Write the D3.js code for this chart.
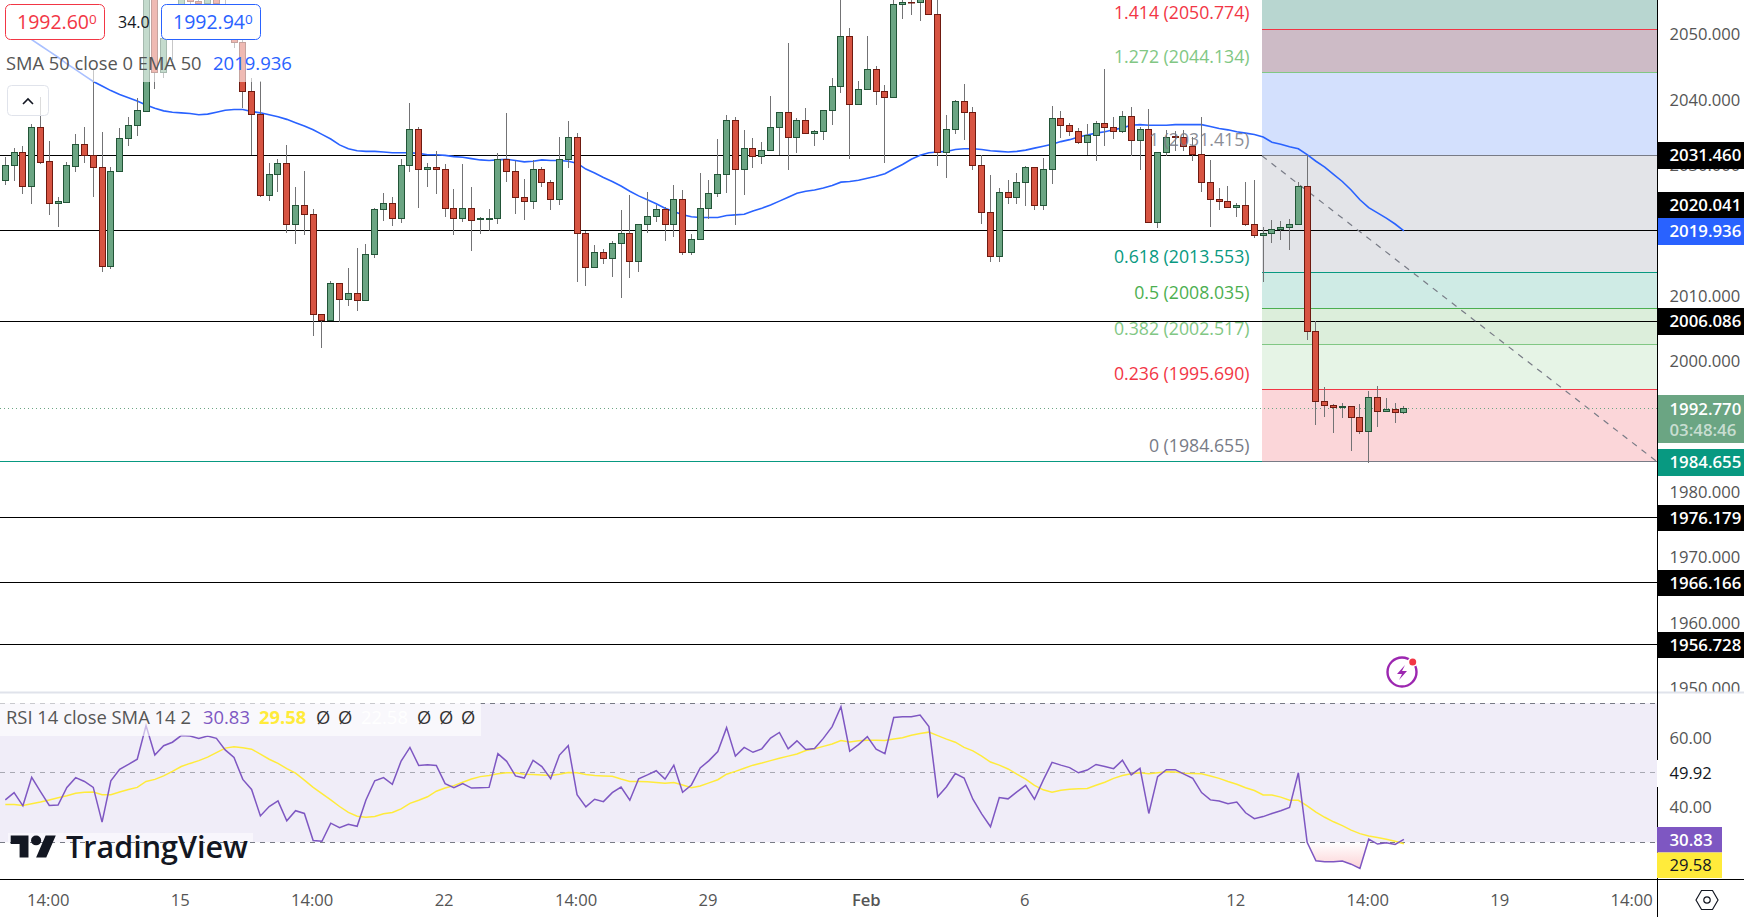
<!DOCTYPE html>
<html>
<head>
<meta charset="utf-8">
<script src="https://cdn.jsdelivr.net/npm/d3@7"></script>
<style>
  html, body { margin: 0; padding: 0; background: #fff; overflow: hidden; }
  svg { display: block; }
  text { font-family: "Open Sans", sans-serif; }
</style>
</head>
<body>
<script>
// candles, oldest first (price)
var opens = [
  2027.7,2030.0,2031.9,2026.8,2035.8,2030.5,2024.2,2024.3,2029.8,2033.1,
  2031.4,2029.6,2014.5,2029.1,2034.0,2036.1,2038.2,2058.3,2044.1,2050.2,
  2052.2,2056.8,2055.1,2054.7,2055.8,2053.2,2049.3,2048.7,2041.3,2037.8,
  2025.4,2028.5,2030.3,2020.9,2023.9,2022.5,2007.1,2006.3,2011.9,2009.4,
  2010.3,2009.3,2016.4,2023.2,2024.2,2021.8,2029.9,2035.4,2029.3,2029.7,
  2029.3,2023.3,2021.8,2023.3,2021.7,2021.7,2021.8,2030.9,2029.0,2025.1,
  2024.4,2029.3,2027.4,2024.7,2030.9,2034.2,2019.5,2014.3,2016.6,2015.7,
  2018.0,2019.5,2015.2,2021.0,2022.1,2023.2,2020.9,2024.7,2016.7,2018.7,
  2023.3,2025.6,2028.5,2036.9,2029.4,2032.6,2031.3,2032.3,2035.8,2038.0,
  2034.2,2036.9,2034.8,2035.2,2038.3,2042.1,2049.7,2039.2,2041.5,2044.7,
  2041.2,2040.3,2054.6,2054.9,2054.8,2055.5,2053.1,2031.9,2035.4,2039.8,
  2038.1,2029.9,2022.8,2016.1,2025.8,2025.0,2027.3,2029.6,2023.8,2029.4,
  2037.2,2036.0,2035.1,2033.4,2034.5,2036.3,2035.7,2035.1,2037.4,2033.7,
  2035.4,2021.2,2031.9,2034.4,2034.3,2032.9,2031.7,2027.3,2024.8,2024.4,
  2023.6,2023.9,2020.9,2019.2,2019.5,2020.1,2020.4,2020.9,2026.8,2004.5,
  1993.8,1993.2,1993.0,1993.1,1991.4,1989.2,1994.4,1992.4,1992.6,1992.1
];
var highs = [
  2031.3,2032.6,2033.0,2036.3,2040.4,2033.7,2025.1,2030.5,2034.8,2035.9,
  2044.6,2035.1,2029.7,2035.7,2037.4,2040.3,2061.9,2061.4,2052.2,2054.3,
  2058.3,2057.8,2056.8,2057.3,2056.8,2055.5,2050.2,2050.2,2043.3,2042.8,
  2030.3,2030.9,2033.1,2026.7,2029.1,2023.3,2007.2,2012.3,2012.0,2014.3,
  2017.3,2018.0,2023.5,2025.8,2025.1,2030.9,2039.5,2035.9,2030.3,2032.2,
  2030.2,2026.4,2030.2,2026.7,2022.1,2023.3,2031.9,2038.0,2030.6,2027.9,
  2030.8,2029.7,2027.7,2034.3,2036.8,2034.9,2019.9,2017.8,2017.2,2018.4,
  2023.2,2025.4,2021.0,2025.9,2023.9,2023.6,2027.0,2026.2,2019.5,2028.8,
  2027.7,2034.0,2037.7,2037.4,2035.4,2034.2,2033.5,2040.6,2038.1,2048.7,
  2037.2,2038.7,2035.4,2038.3,2043.3,2055.3,2051.0,2042.9,2049.7,2045.2,
  2042.2,2055.8,2055.5,2055.5,2055.8,2055.8,2055.5,2037.7,2040.0,2042.4,
  2038.9,2031.5,2028.5,2026.5,2027.7,2028.8,2029.9,2029.7,2031.1,2039.0,
  2038.3,2036.4,2035.7,2036.3,2036.8,2044.7,2037.4,2038.3,2038.9,2035.9,
  2038.6,2031.9,2035.4,2035.2,2035.3,2034.3,2037.4,2030.8,2026.5,2026.8,
  2024.2,2027.4,2027.7,2020.6,2021.6,2021.4,2021.8,2027.4,2031.6,2006.1,
  1996.0,1993.4,1993.7,1993.2,1993.5,1995.4,1996.3,1994.4,1993.7,1993.2
];
var lows = [
  2027.0,2027.5,2025.6,2024.1,2030.2,2022.4,2020.6,2024.3,2029.0,2030.4,
  2025.2,2013.6,2014.1,2029.0,2033.0,2034.4,2038.2,2041.7,2043.3,2046.1,
  2050.2,2053.8,2052.7,2052.2,2052.7,2050.2,2047.9,2038.8,2031.6,2025.2,
  2024.5,2025.9,2019.6,2018.0,2019.3,2003.8,2002.0,2006.2,2006.0,2008.4,
  2007.7,2009.2,2015.8,2021.4,2020.7,2021.2,2028.9,2023.4,2026.6,2025.6,
  2022.0,2019.3,2021.3,2016.8,2019.4,2019.9,2021.0,2027.4,2022.6,2021.6,
  2023.3,2026.6,2023.1,2023.9,2029.5,2012.1,2011.5,2014.3,2014.9,2012.9,
  2009.7,2012.7,2013.6,2019.6,2021.3,2018.4,2019.0,2016.2,2016.2,2018.7,
  2021.7,2025.1,2025.7,2020.8,2025.4,2029.5,2030.1,2032.3,2031.5,2029.2,
  2031.8,2034.8,2033.0,2033.8,2036.2,2041.0,2031.0,2039.2,2041.5,2039.2,
  2030.3,2040.3,2052.4,2053.0,2052.1,2052.9,2029.8,2028.0,2034.7,2033.9,
  2029.2,2021.0,2015.2,2015.2,2024.1,2024.0,2023.7,2023.1,2023.1,2027.1,
  2034.1,2034.4,2033.3,2031.6,2030.7,2032.9,2034.0,2034.9,2031.4,2029.2,
  2021.2,2020.4,2031.4,2032.1,2032.1,2030.7,2025.9,2020.5,2023.1,2023.6,
  2022.0,2020.7,2018.9,2012.1,2018.1,2018.5,2017.1,2020.9,2003.2,1990.3,
  1991.5,1989.1,1991.4,1986.3,1988.9,1984.5,1989.9,1992.4,1990.6,1992.0
];
var closes = [
  2030.0,2031.9,2026.8,2035.8,2030.4,2024.2,2024.4,2029.9,2033.1,2031.4,
  2029.6,2014.5,2029.1,2034.0,2036.1,2038.3,2060.4,2044.1,2049.3,2053.2,
  2055.8,2055.0,2054.7,2056.3,2054.7,2050.7,2048.7,2041.3,2037.8,2025.4,
  2028.5,2030.3,2020.9,2023.9,2022.5,2007.1,2006.3,2011.9,2009.4,2010.3,
  2009.3,2016.4,2023.2,2024.2,2021.8,2029.9,2035.4,2029.3,2029.7,2029.3,
  2023.3,2021.8,2023.3,2021.6,2021.8,2021.8,2030.9,2029.0,2025.1,2024.4,
  2029.3,2027.4,2024.7,2030.9,2034.2,2019.5,2014.3,2016.6,2015.7,2018.0,
  2019.5,2015.2,2021.0,2022.1,2023.2,2020.9,2024.7,2016.7,2018.7,2023.3,
  2025.6,2028.5,2036.9,2029.4,2032.6,2031.3,2032.3,2035.8,2038.0,2034.2,
  2036.9,2034.8,2035.2,2038.3,2042.1,2049.7,2039.2,2041.5,2044.7,2041.2,
  2040.3,2054.6,2054.9,2054.8,2055.5,2053.1,2031.9,2035.4,2039.8,2038.1,
  2029.9,2022.8,2016.1,2025.8,2025.0,2027.3,2029.6,2023.8,2029.4,2037.2,
  2036.0,2035.1,2033.4,2034.5,2036.3,2035.7,2035.1,2037.4,2033.7,2035.4,
  2021.2,2031.9,2034.3,2034.3,2032.9,2031.7,2027.3,2024.8,2024.4,2023.6,
  2023.9,2020.9,2019.2,2019.5,2020.1,2020.4,2020.9,2026.8,2004.5,1993.8,
  1993.2,1992.9,1993.1,1991.4,1989.2,1994.4,1992.4,1992.6,1992.1,1992.77
];
var ema50 = [
  2052.4,2051.4,2050.3,2049.2,2048.3,2047.4,2046.5,2045.5,2044.6,2043.7,
  2042.8,2042.1,2041.4,2040.8,2040.3,2039.8,2039.2,2038.7,2038.3,2038.1,
  2038.0,2037.9,2037.7,2037.8,2038.1,2038.4,2038.5,2038.5,2038.2,2038.0,
  2037.7,2037.4,2037.0,2036.5,2036.0,2035.4,2034.7,2034.0,2033.1,2032.5,
  2032.2,2032.1,2032.1,2032.0,2031.9,2031.9,2031.9,2031.8,2031.6,2031.6,
  2031.5,2031.3,2031.2,2031.0,2030.8,2030.7,2030.8,2030.9,2030.7,2030.5,
  2030.6,2030.8,2030.7,2030.7,2030.6,2030.3,2029.4,2028.8,2028.1,2027.5,
  2026.8,2026.0,2025.3,2024.7,2024.1,2023.4,2022.9,2022.4,2022.1,2022.0,
  2022.0,2022.0,2022.3,2022.4,2022.5,2023.0,2023.4,2023.9,2024.5,2025.1,
  2025.7,2026.0,2026.2,2026.5,2026.9,2027.4,2027.5,2027.7,2028.0,2028.3,
  2028.7,2029.4,2030.1,2030.9,2031.5,2031.9,2032.0,2032.1,2032.4,2032.5,
  2032.5,2032.4,2032.2,2032.1,2032.0,2032.1,2032.3,2032.6,2032.9,2033.2,
  2033.6,2033.9,2034.3,2034.6,2034.9,2035.1,2035.4,2035.7,2036.1,2036.2,
  2036.1,2036.1,2036.1,2036.2,2036.2,2036.2,2036.2,2035.9,2035.6,2035.4,
  2035.1,2034.9,2034.7,2034.3,2033.5,2033.2,2032.8,2032.5,2031.6,2030.6,
  2029.7,2028.6,2027.5,2026.2,2024.7,2023.5,2022.7,2021.9,2021.0,2019.94
];
var rsi = [
  42.2,44.3,40.5,48.7,44.6,40.6,40.7,45.8,48.6,47.5,
  45.8,35.8,47.7,51.0,52.4,53.9,63.6,55.1,57.8,58.8,
  60.7,60.6,59.9,60.6,59.9,56.6,54.4,48.1,45.2,37.6,
  40.3,41.9,36.2,39.1,38.3,30.5,30.3,35.5,34.2,35.2,
  34.6,42.2,47.7,48.6,46.7,53.4,57.3,52.1,52.3,52.1,
  46.9,45.7,46.9,45.6,45.7,45.8,55.5,53.3,49.1,48.5,
  53.6,51.8,48.3,55.1,57.8,43.7,40.2,42.4,41.7,44.3,
  45.9,42.1,48.3,49.4,50.6,48.2,52.2,44.4,46.5,51.4,
  53.5,56.1,63.0,54.8,57.3,55.9,56.9,60.0,61.6,56.9,
  59.2,56.7,57.0,59.9,63.3,69.0,56.2,58.1,60.4,56.8,
  55.5,65.9,66.1,66.1,66.6,63.3,43.1,46.0,49.8,48.5,
  42.4,38.2,34.5,42.9,42.5,44.5,46.4,42.4,47.9,53.0,
  52.2,51.5,50.0,50.8,52.4,51.8,51.2,53.6,49.4,51.3,
  38.3,48.9,50.9,50.9,49.6,48.4,44.3,42.2,41.9,41.1,
  41.6,38.5,36.8,37.4,38.3,39.1,40.0,50.0,30.0,24.7,
  24.4,24.4,24.6,23.7,22.5,30.9,29.5,29.9,29.4,30.83
];
var rsiSma = [
  40.9,40.9,40.6,41.1,41.6,42.2,42.8,43.4,44.1,44.4,
  44.5,43.7,43.7,44.5,45.2,45.8,47.5,48.1,49.1,50.4,
  51.8,52.7,53.5,54.5,55.8,57.1,57.5,57.2,56.8,55.4,
  53.9,52.7,51.2,49.9,47.9,45.8,44.0,42.2,40.3,38.6,
  37.5,37.2,37.4,38.2,38.6,39.6,41.2,42.1,43.1,44.7,
  45.6,46.3,47.3,48.2,48.9,49.2,49.7,50.0,50.0,49.6,
  49.5,49.4,49.2,49.6,50.1,50.0,49.5,49.2,49.1,49.0,
  48.2,47.5,47.5,47.4,47.2,47.0,47.2,46.5,45.7,46.2,
  47.1,48.0,49.6,50.4,51.3,52.2,52.8,53.5,54.2,54.8,
  55.4,56.4,56.9,57.6,58.3,59.3,58.9,59.2,59.4,59.4,
  59.3,59.7,60.1,60.8,61.3,61.7,60.7,59.7,58.8,57.3,
  56.3,54.8,53.1,52.2,51.1,49.6,48.2,46.4,45.1,44.4,
  45.0,45.3,45.4,45.5,46.4,47.3,48.4,49.2,49.7,50.0,
  49.7,50.0,50.3,50.2,49.9,49.8,49.7,49.1,48.4,47.5,
  46.7,45.7,44.9,43.6,43.6,43.0,42.1,42.1,40.5,38.7,
  37.2,35.9,34.8,33.5,32.5,31.8,31.4,30.9,30.3,29.58
];

// fibonacci retracement
var fibRatios = ["0", "0.236", "0.382", "0.5", "0.618", "1", "1.272", "1.414"];
var fibPrices = [1984.655, 1995.69, 2002.517, 2008.035, 2013.553, 2031.415, 2044.134, 2050.774];
var fibColors = ["#787b86", "#f23645", "#81c784", "#4caf50", "#089981", "#787b86", "#81c784", "#f23645"];
var fibFills = ["#fbd6d9", "#e6f4e6", "#dceedb", "#cfebe5", "#e3e4e8", "#d3e0fd", "#cdbbc6", "#b8d6d0"];

var levelLines = [2031.46, 2020.041, 2006.086, 1976.179, 1966.166, 1956.728];
var priceTicks = [2050, 2040, 2030, 2010, 2000, 1980, 1970, 1960, 1950];
var rsiTicks = [60, 40];
var timeTicks = [5, 20, 35, 50, 65, 80, 98, 116, 140, 155, 170, 185];
var timeLabels = ["14:00", "15", "14:00", "22", "14:00", "29", "Feb", "6", "12", "14:00", "19", "14:00"];

var width = 1744,
  height = 917,
  axisX = 1657,
  pricePaneBottom = 692,
  rsiPaneBottom = 879;

var svg = d3.select("body").append("svg").attr("width", width).attr("height", height);

var x = d3.scaleLinear().domain([0, 159]).range([5.3, 1403.9]);
var y = d3.scaleLinear().domain([1956.728, 2050.774]).range([644.3, 29.3]);
var yRsi = d3.scaleLinear().domain([30, 70]).range([842.3, 703.3]);

var crisp = function (v) {
  return Math.floor(v) + 0.5;
};

var indexes = d3.range(opens.length);
var green = function (i) {
  return closes[i] >= opens[i];
};

// ---- price pane
var price = svg.append("g");

// fib zones, the last one runs off the top
var fibLeft = 1262;
price
  .selectAll("rect.zone")
  .data(fibFills)
  .enter()
  .append("rect")
  .attr("class", "zone")
  .attr("x", fibLeft)
  .attr("width", axisX - fibLeft)
  .attr("y", function (d, i) {
    return i == 7 ? 0 : y(fibPrices[i + 1]);
  })
  .attr("height", function (d, i) {
    return i == 7 ? y(fibPrices[7]) : y(fibPrices[i]) - y(fibPrices[i + 1]);
  })
  .attr("fill", function (d) {
    return d;
  });

price
  .selectAll("line.level")
  .data(levelLines)
  .enter()
  .append("line")
  .attr("class", "level")
  .attr("x1", 0)
  .attr("x2", axisX)
  .attr("y1", function (d) {
    return crisp(y(d));
  })
  .attr("y2", function (d) {
    return crisp(y(d));
  })
  .attr("stroke", "#000")
  .attr("stroke-width", 1);

// low of the move continues left in teal
price
  .append("line")
  .attr("x1", 0)
  .attr("x2", fibLeft)
  .attr("y1", crisp(y(1984.655)))
  .attr("y2", crisp(y(1984.655)))
  .attr("stroke", "#089981");

price
  .selectAll("line.fib")
  .data(fibPrices)
  .enter()
  .append("line")
  .attr("class", "fib")
  .attr("x1", fibLeft)
  .attr("x2", axisX)
  .attr("y1", function (d) {
    return crisp(y(d));
  })
  .attr("y2", function (d) {
    return crisp(y(d));
  })
  .attr("stroke", function (d, i) {
    return fibColors[i];
  });

// trend line of the fib tool
price
  .append("line")
  .attr("x1", fibLeft)
  .attr("y1", y(2031.415))
  .attr("x2", axisX)
  .attr("y2", y(1984.655))
  .attr("stroke", "#787b86")
  .attr("stroke-width", 1.2)
  .attr("stroke-dasharray", "6 6");

var emaLine = d3
  .line()
  .x(function (d, i) {
    return x(i);
  })
  .y(function (d) {
    return y(d);
  })
  .curve(d3.curveLinear);

price
  .append("path")
  .attr("d", emaLine(ema50))
  .attr("fill", "none")
  .attr("stroke", "#2962ff")
  .attr("stroke-width", 1.6);

// last price
price
  .append("line")
  .attr("x1", 0)
  .attr("x2", axisX)
  .attr("y1", crisp(y(1992.77)))
  .attr("y2", crisp(y(1992.77)))
  .attr("stroke", "#6ba583")
  .attr("stroke-dasharray", "1 3");

var candles = price.selectAll("g.candle").data(indexes).enter().append("g").attr("class", "candle");

candles
  .append("rect")
  .attr("x", function (i) {
    return Math.floor(x(i));
  })
  .attr("width", 1)
  .attr("y", function (i) {
    return Math.round(y(highs[i]));
  })
  .attr("height", function (i) {
    return Math.round(y(lows[i])) - Math.round(y(highs[i]));
  })
  .attr("fill", "#737375");

candles
  .append("rect")
  .attr("x", function (i) {
    return Math.floor(x(i)) - 2.5;
  })
  .attr("width", 6)
  .attr("y", function (i) {
    return crisp(y(Math.max(opens[i], closes[i])));
  })
  .attr("height", function (i) {
    return Math.max(0.5, Math.floor(y(Math.min(opens[i], closes[i]))) - Math.floor(y(Math.max(opens[i], closes[i]))));
  })
  .attr("fill", function (i) {
    return green(i) ? "#6ba583" : "#d75442";
  })
  .attr("stroke", function (i) {
    return green(i) ? "#225437" : "#6f1a10";
  })
  .attr("stroke-width", 1);

// fib labels sit above each level
price
  .selectAll("text.fibLabel")
  .data(fibPrices)
  .enter()
  .append("text")
  .attr("class", "fibLabel")
  .attr("x", 1249.5)
  .attr("y", function (d) {
    return y(d) - 16;
  })
  .attr("dy", "0.35em")
  .attr("text-anchor", "end")
  .attr("font-size", 17.7)
  .attr("fill", function (d, i) {
    return fibColors[i];
  })
  .attr("opacity", function (d, i) {
    return i == 5 ? 0.85 : 1;
  })
  .text(function (d, i) {
    return fibRatios[i] + " (" + d.toFixed(3) + ")";
  });

// legend, fades what is behind it
price.append("rect").attr("x", 0).attr("y", 0).attr("width", 262).attr("height", 41).attr("fill", "#fff").attr("opacity", 0.6);
price.append("rect").attr("x", 0).attr("y", 41).attr("width", 296).attr("height", 41).attr("fill", "#fff").attr("opacity", 0.6);

var bidBox = price.append("g");
bidBox
  .append("rect")
  .attr("x", 5.5)
  .attr("y", 4.5)
  .attr("width", 99)
  .attr("height", 35)
  .attr("rx", 5)
  .attr("fill", "#fff")
  .attr("stroke", "#f23645");
var bidText = bidBox
  .append("text")
  .attr("x", 17)
  .attr("y", 29)
  .attr("font-size", 19.5)
  .attr("fill", "#f23645")
  .text("1992.60");
bidText.append("tspan").attr("font-size", 13.5).attr("dy", -5).text("0");

price.append("text").attr("x", 118).attr("y", 28).attr("font-size", 16).attr("fill", "#131722").text("34.0");

var askBox = price.append("g");
askBox
  .append("rect")
  .attr("x", 161.5)
  .attr("y", 4.5)
  .attr("width", 99)
  .attr("height", 35)
  .attr("rx", 5)
  .attr("fill", "#fff")
  .attr("stroke", "#2962ff");
var askText = askBox
  .append("text")
  .attr("x", 173)
  .attr("y", 29)
  .attr("font-size", 19.5)
  .attr("fill", "#2962ff")
  .text("1992.94");
askText.append("tspan").attr("font-size", 13.5).attr("dy", -5).text("0");

price.append("text").attr("x", 6).attr("y", 70).attr("font-size", 18.3).attr("fill", "#555").text("SMA 50 close 0 EMA 50");
price.append("text").attr("x", 213).attr("y", 70).attr("font-size", 18.5).attr("fill", "#2962ff").text("2019.936");

// collapse button
price
  .append("rect")
  .attr("x", 7.5)
  .attr("y", 85.5)
  .attr("width", 41)
  .attr("height", 30)
  .attr("rx", 4)
  .attr("fill", "#fff")
  .attr("fill-opacity", 0.75)
  .attr("stroke", "#e0e3eb");
price
  .append("path")
  .attr("d", "M23 104l5-5 5 5")
  .attr("fill", "none")
  .attr("stroke", "#131722")
  .attr("stroke-width", 1.6);

// flash icon
var flash = price.append("g").attr("transform", "translate(1402,672)");
flash.append("circle").attr("r", 14.5).attr("fill", "#fff").attr("stroke", "#9c27b0").attr("stroke-width", 2.4);
flash.append("path").attr("d", "M3-7 -5 2h5l-3 6 8-9H0z").attr("fill", "#9c27b0");
flash.append("circle").attr("cx", 10.7).attr("cy", -10).attr("r", 5).attr("fill", "#fff");
flash.append("circle").attr("cx", 10.7).attr("cy", -10).attr("r", 3.5).attr("fill", "#f23645");

// ---- price scale
svg.append("rect").attr("x", axisX).attr("y", 0).attr("width", width - axisX).attr("height", pricePaneBottom).attr("fill", "#fff");

var priceAxis = d3
  .axisRight(y)
  .tickValues(priceTicks)
  .tickSize(0)
  .tickPadding(12.5)
  .tickFormat(function (d) {
    return d.toFixed(3);
  });

var priceAxisG = svg.append("g").attr("transform", "translate(" + axisX + ",0)").call(priceAxis);
priceAxisG.select(".domain").remove();
priceAxisG.selectAll("text").attr("font-family", null).attr("font-size", 16.6).attr("fill", "#555");

var priceTags = [
  { text: "2031.460", top: 142, h: 27, bg: "#000", fg: "#fff" },
  { text: "2020.041", top: 192, h: 27, bg: "#000", fg: "#fff" },
  { text: "2019.936", top: 218, h: 27, bg: "#2962ff", fg: "#fff" },
  { text: "2006.086", top: 308, h: 27, bg: "#000", fg: "#fff" },
  { text: "1984.655", top: 449, h: 27, bg: "#089981", fg: "#fff" },
  { text: "1976.179", top: 505, h: 26, bg: "#000", fg: "#fff" },
  { text: "1966.166", top: 570, h: 26, bg: "#000", fg: "#fff" },
  { text: "1956.728", top: 632, h: 26, bg: "#000", fg: "#fff" },
];

var tags = svg.selectAll("g.tag").data(priceTags).enter().append("g").attr("class", "tag");
tags
  .append("rect")
  .attr("x", axisX)
  .attr("width", width - axisX)
  .attr("y", function (d) {
    return d.top;
  })
  .attr("height", function (d) {
    return d.h;
  })
  .attr("fill", function (d) {
    return d.bg;
  });
tags
  .append("text")
  .attr("x", axisX + 12.5)
  .attr("y", function (d) {
    return d.top + d.h / 2;
  })
  .attr("dy", "0.35em")
  .attr("font-size", 16.8)
  .attr("font-weight", 600)
  .attr("fill", function (d) {
    return d.fg;
  })
  .text(function (d) {
    return d.text;
  });

svg.append("rect").attr("x", axisX).attr("y", 395).attr("width", width - axisX).attr("height", 48).attr("fill", "#6ba583");
svg.append("text").attr("x", axisX + 12.5).attr("y", 409).attr("dy", "0.35em").attr("font-size", 16.8).attr("font-weight", 600).attr("fill", "#fff").text("1992.770");
svg.append("text").attr("x", axisX + 12.5).attr("y", 430).attr("dy", "0.35em").attr("font-size", 16.8).attr("font-weight", 600).attr("fill", "#fff").attr("fill-opacity", 0.65).text("03:48:46");

// ---- rsi pane
svg.append("rect").attr("x", 0).attr("y", pricePaneBottom).attr("width", width).attr("height", height - pricePaneBottom).attr("fill", "#fff");
svg.append("rect").attr("x", 0).attr("y", pricePaneBottom - 0.5).attr("width", width).attr("height", 2).attr("fill", "#e0e3eb");

var rsiPane = svg.append("g");

rsiPane
  .append("rect")
  .attr("x", 0)
  .attr("y", yRsi(70))
  .attr("width", axisX)
  .attr("height", yRsi(30) - yRsi(70))
  .attr("fill", "#f0edf8");

[70, 50, 30].forEach(function (d) {
  rsiPane
    .append("line")
    .attr("x1", 0)
    .attr("x2", axisX)
    .attr("y1", crisp(yRsi(d)))
    .attr("y2", crisp(yRsi(d)))
    .attr("stroke", "#787b86")
    .attr("stroke-opacity", d == 50 ? 0.6 : 1)
    .attr("stroke-dasharray", "5 5");
});

// oversold gradient under the 30 line
var gradient = svg
  .append("defs")
  .append("linearGradient")
  .attr("id", "oversold")
  .attr("x1", 0)
  .attr("y1", 0)
  .attr("x2", 0)
  .attr("y2", 1);
gradient.append("stop").attr("offset", "0%").attr("stop-color", "#f23645").attr("stop-opacity", 0);
gradient.append("stop").attr("offset", "100%").attr("stop-color", "#f23645").attr("stop-opacity", 0.22);

var oversoldArea = d3
  .area()
  .x(function (d) {
    return x(d);
  })
  .y0(yRsi(30))
  .y1(function (d) {
    return yRsi(Math.min(rsi[d], 30));
  });

rsiPane
  .append("path")
  .attr("d", oversoldArea(d3.range(148, 156)))
  .attr("fill", "url(#oversold)");

var rsiLine = d3
  .line()
  .x(function (d, i) {
    return x(i);
  })
  .y(function (d) {
    return yRsi(d);
  });

rsiPane.append("path").attr("d", rsiLine(rsiSma)).attr("fill", "none").attr("stroke", "#ffeb3b").attr("stroke-width", 1.5);
rsiPane.append("path").attr("d", rsiLine(rsi)).attr("fill", "none").attr("stroke", "#7e57c2").attr("stroke-width", 1.5);

// rsi legend
rsiPane.append("rect").attr("x", 0).attr("y", 703).attr("width", 481).attr("height", 33).attr("fill", "#fff").attr("opacity", 0.6);
var rsiLegend = [
  { t: "RSI 14 close SMA 14 2", x: 6, c: "#555", w: 400 },
  { t: "30.83", x: 203, c: "#7e57c2", w: 500 },
  { t: "29.58", x: 259, c: "#ffeb3b", w: 700 },
  { t: "Ø", x: 316, c: "#333", w: 400 },
  { t: "Ø", x: 338, c: "#333", w: 400 },
  { t: "22.58", x: 361, c: "#fff", w: 400 },
  { t: "Ø", x: 417, c: "#333", w: 400 },
  { t: "Ø", x: 439, c: "#333", w: 400 },
  { t: "Ø", x: 461, c: "#333", w: 400 },
];
rsiPane
  .selectAll("text.rsiLegend")
  .data(rsiLegend)
  .enter()
  .append("text")
  .attr("class", "rsiLegend")
  .attr("x", function (d) {
    return d.x;
  })
  .attr("y", 718)
  .attr("dy", "0.35em")
  .attr("font-size", 18.4)
  .attr("font-weight", function (d) {
    return d.w;
  })
  .attr("fill", function (d) {
    return d.c;
  })
  .text(function (d) {
    return d.t;
  });

// tradingview mark
rsiPane.append("rect").attr("x", 8).attr("y", 833).attr("width", 245).attr("height", 9).attr("fill", "#fff").attr("opacity", 0.5);
var logo = rsiPane.append("g").attr("transform", "translate(10.7,830.7) scale(1.27,1.22)");
logo.append("path").attr("d", "M14 22H7V11H0V4h14v18zM28 22h-8l7.5-18h8L28 22z").attr("fill", "#131722");
logo.append("circle").attr("cx", 20).attr("cy", 8).attr("r", 4).attr("fill", "#131722");
rsiPane
  .append("text")
  .attr("x", 66)
  .attr("y", 858)
  .attr("font-size", 30)
  .attr("font-weight", 600)
  .attr("fill", "#131722")
  .attr("textLength", 182)
  .attr("lengthAdjust", "spacingAndGlyphs")
  .text("TradingView");

// rsi scale
var rsiAxis = d3.axisRight(yRsi).tickValues(rsiTicks).tickSize(0).tickPadding(12.5).tickFormat(d3.format(".2f"));
var rsiAxisG = svg.append("g").attr("transform", "translate(" + axisX + ",0)").call(rsiAxis);
rsiAxisG.select(".domain").remove();
rsiAxisG.selectAll("text").attr("font-family", null).attr("font-size", 16.6).attr("fill", "#555");

// ---- frame lines
svg.append("line").attr("x1", axisX + 0.5).attr("x2", axisX + 0.5).attr("y1", 0).attr("y2", height).attr("stroke", "#000");
svg.append("line").attr("x1", 0).attr("x2", width).attr("y1", rsiPaneBottom + 0.5).attr("y2", rsiPaneBottom + 0.5).attr("stroke", "#000");
svg.append("rect").attr("x", axisX).attr("y", 760).attr("width", 30).attr("height", 27).attr("fill", "#fff");
svg.append("text").attr("x", axisX + 12.5).attr("y", 773.5).attr("dy", "0.35em").attr("font-size", 16.6).attr("fill", "#131722").text("49.92");

svg.append("rect").attr("x", axisX).attr("y", 827).attr("width", 65).attr("height", 25.5).attr("fill", "#7e57c2");
svg.append("text").attr("x", axisX + 12.5).attr("y", 840).attr("dy", "0.35em").attr("font-size", 16.8).attr("font-weight", 600).attr("fill", "#fff").text("30.83");
svg.append("rect").attr("x", axisX).attr("y", 852.5).attr("width", 65).attr("height", 25.5).attr("fill", "#ffeb3b");
svg.append("text").attr("x", axisX + 12.5).attr("y", 865.5).attr("dy", "0.35em").attr("font-size", 16.6).attr("fill", "#131722").text("29.58");

// ---- time axis
var timeAxis = d3
  .axisBottom(x)
  .tickValues(timeTicks)
  .tickSize(0)
  .tickPadding(15)
  .tickFormat(function (d, i) {
    return timeLabels[i];
  });

var timeAxisG = svg.append("g").attr("transform", "translate(-1.5," + rsiPaneBottom + ")").call(timeAxis);
timeAxisG.select(".domain").remove();
timeAxisG
  .selectAll("text")
  .attr("font-family", null)
  .attr("font-size", 16.6)
  .attr("fill", "#555")
  .attr("font-weight", function (d, i) {
    return timeLabels[i] == "Feb" ? 600 : 400;
  });

// settings icon
var settings = svg.append("g").attr("transform", "translate(1707,900)");
settings
  .append("path")
  .attr("d", "M-11 0L-5.5-9.5H5.5L11 0 5.5 9.5H-5.5z")
  .attr("fill", "none")
  .attr("stroke", "#131722")
  .attr("stroke-width", 1.2);
settings.append("circle").attr("r", 3.2).attr("fill", "none").attr("stroke", "#131722").attr("stroke-width", 1.2);
</script>
</body>
</html>
